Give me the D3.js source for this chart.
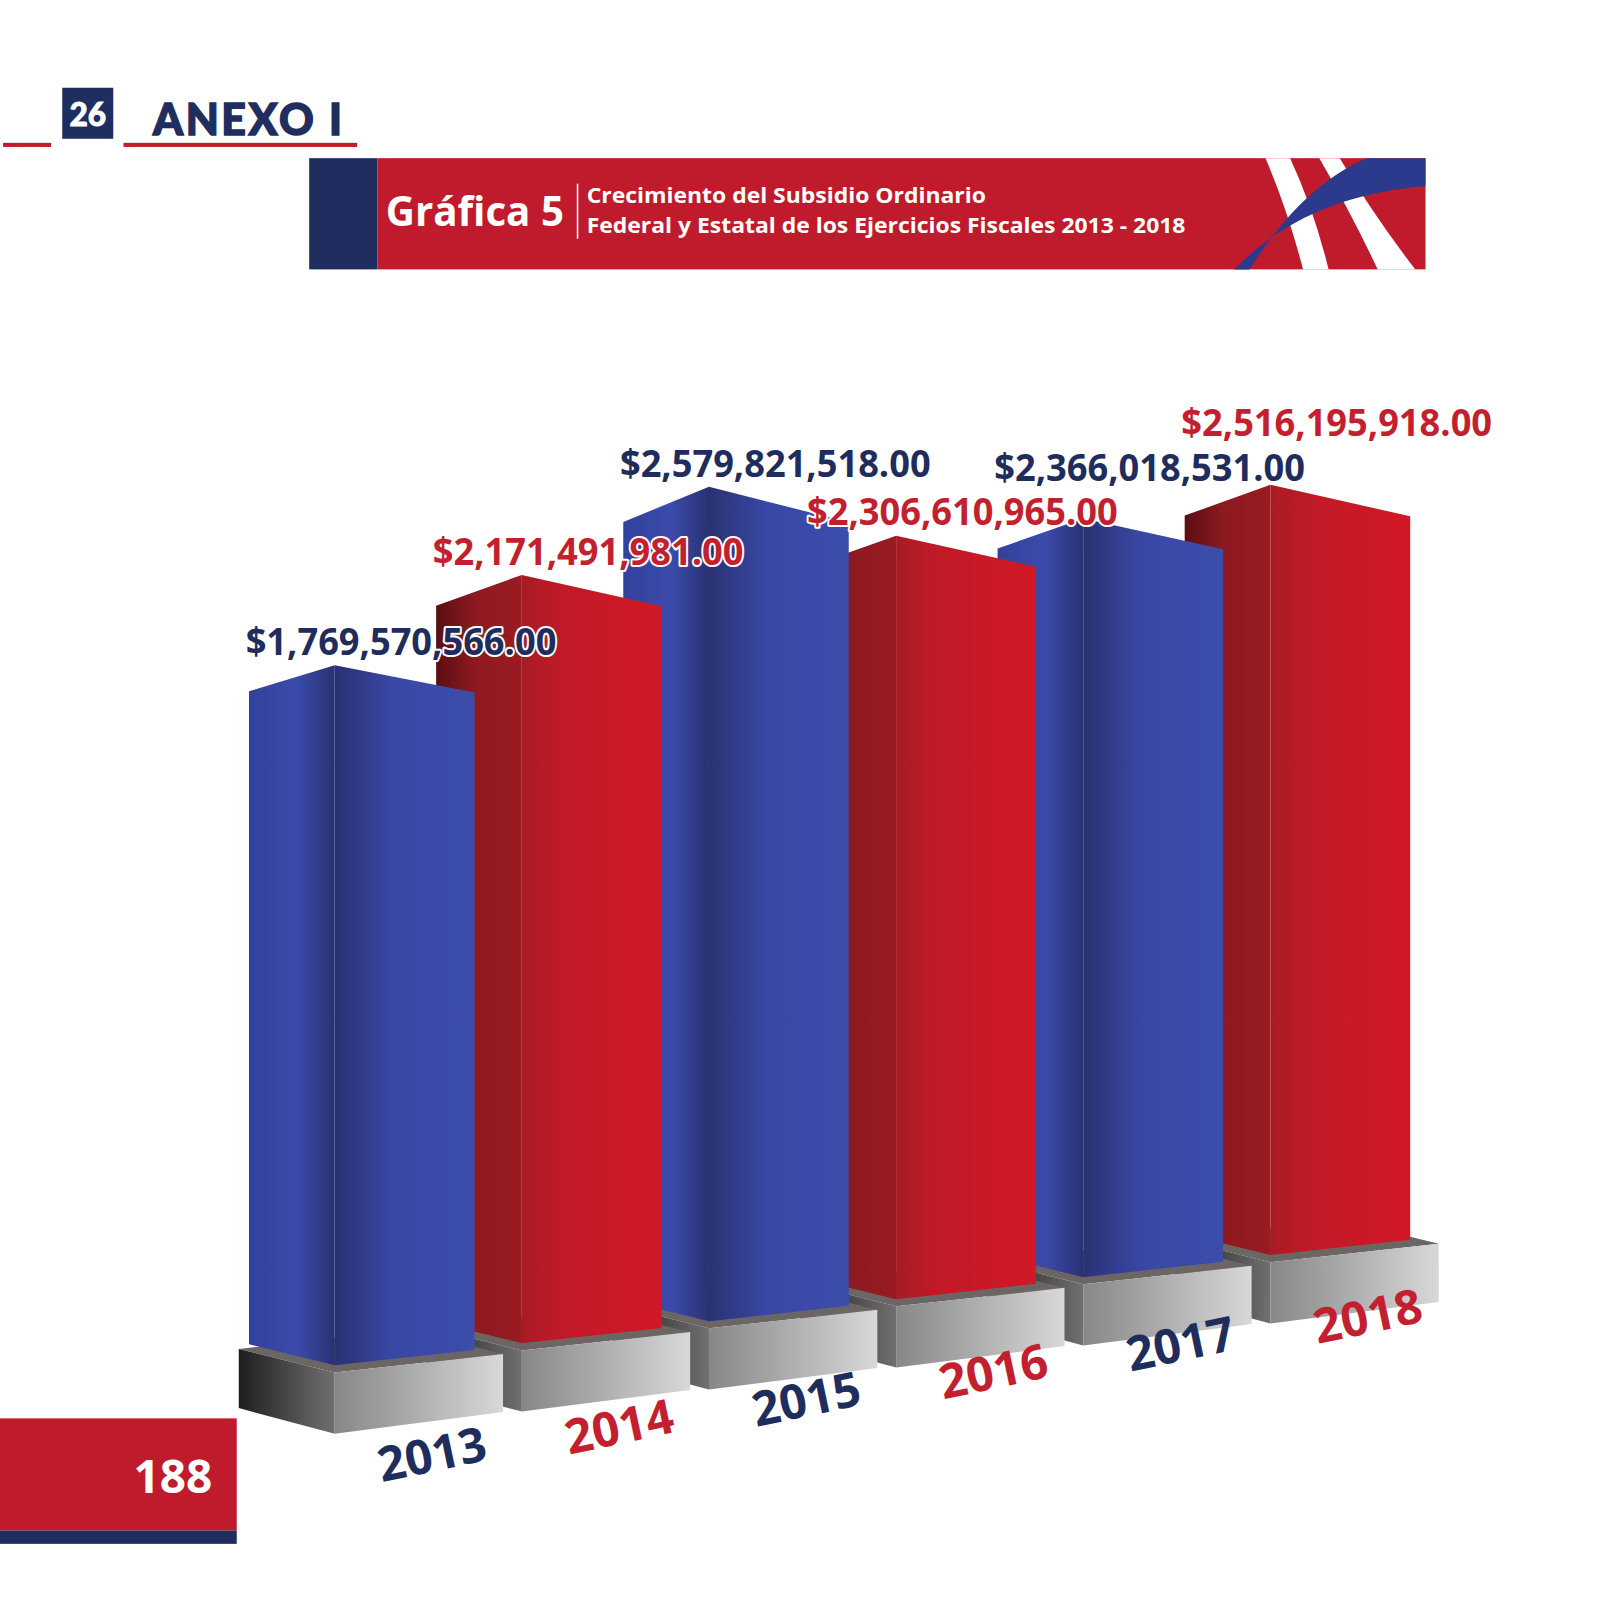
<!DOCTYPE html>
<html><head><meta charset="utf-8">
<script src="https://cdn.jsdelivr.net/npm/d3@7"></script>
<style>body{margin:0;background:#fff}svg{display:block}</style>
</head><body>
<svg id="c" width="1600" height="1600"></svg>
<script>
// ---------- data ----------
const years = ["2013", "2014", "2015", "2016", "2017", "2018"];
const values = [1769570566, 2171491981, 2579821518, 2306610965, 2366018531, 2516195918];
const sectionNumber = "26";
const sectionTitle = "ANEXO I";
const chartNumber = "Gráfica 5";
const titleLines = ["Crecimiento del Subsidio Ordinario", "Federal y Estatal de los Ejercicios Fiscales 2013 - 2018"];
const pageNumber = "188";

// ---------- styles ----------
const NAVY = "#1f2e5e", RED = "#c01b2c", LBLUE = "#1f2d5c", LRED = "#c41f2f";
const FONT = "'Open Sans', 'Noto Sans', sans-serif";

const root = d3.select("#c");
const defs = root.append("defs");
const svg = root.append("g").attr("transform", "scale(1.0204)");
function grad(id, stops) {
  const g = defs.append("linearGradient").attr("id", id)
    .attr("x1", 0).attr("x2", 1).attr("y1", 0).attr("y2", 0);
  stops.forEach(([o, c]) => g.append("stop").attr("offset", o).attr("stop-color", c));
}
grad("blueL", [[0, "#33409b"], [0.55, "#3c4bab"], [1, "#2a3172"]]);
grad("blueR", [[0, "#2a3172"], [0.4, "#3947a4"], [1, "#3d4dac"]]);
grad("redL", [[0, "#5a0e13"], [0.45, "#8c1a20"], [1, "#9a1b22"]]);
grad("redR", [[0, "#a81b24"], [0.3, "#c11a27"], [1, "#d21826"]]);
grad("pedL", [[0, "#1e1e1e"], [1, "#707070"]]);
grad("pedF", [[0, "#878787"], [1, "#d8d8d8"]]);

// ---------- header ----------
svg.append("rect").attr("x", 3).attr("y", 140).attr("width", 47).attr("height", 4).attr("fill", RED);
svg.append("rect").attr("x", 121).attr("y", 140).attr("width", 229).attr("height", 4).attr("fill", RED);
svg.append("rect").attr("x", 61).attr("y", 86).attr("width", 50).attr("height", 50).attr("fill", NAVY);
svg.append("text").attr("x", 86).attr("y", 123).attr("text-anchor", "middle")
  .attr("fill", "#fff").attr("stroke", "#fff").attr("stroke-width", 0.8)
  .attr("font-family", "Lato, sans-serif").attr("font-weight", 900)
  .attr("font-size", 31).text(sectionNumber);
svg.append("text").attr("x", 150).attr("y", 132)
  .attr("fill", NAVY).attr("stroke", NAVY).attr("stroke-width", 1.4)
  .attr("font-family", "Lato, sans-serif").attr("font-weight", 900)
  .attr("font-size", 42).attr("letter-spacing", 2.5).text(sectionTitle);

// banner
root.append("clipPath").attr("id", "bannerClip").append("rect")
  .attr("x", 370).attr("y", 155).attr("width", 1027).attr("height", 109);
svg.append("rect").attr("x", 303).attr("y", 155).attr("width", 67).attr("height", 109).attr("fill", NAVY);
svg.append("rect").attr("x", 370).attr("y", 155).attr("width", 1027).attr("height", 109).attr("fill", RED);
const deco = svg.append("g").attr("clip-path", "url(#bannerClip)");
deco.append("path").attr("fill", "#fff")
  .attr("d", "M1238,150 Q1262,205 1278,268 L1303,268 Q1288,205 1262,150 Z");
deco.append("path").attr("fill", "#fff")
  .attr("d", "M1290,150 Q1325,210 1352,268 L1390,268 Q1345,210 1310,150 Z");
deco.append("path").attr("fill", "#2b3a8c")
  .attr("d", "M1206,268 C1255,215 1320,188 1400,182 L1400,150 L1352,150 C1300,168 1258,210 1222,268 Z");

svg.append("text").attr("x", 378).attr("y", 221).attr("fill", "#fff")
  .attr("font-family", FONT).attr("font-weight", 700).attr("font-size", 39.5).text(chartNumber);
svg.append("line").attr("x1", 566).attr("x2", 566).attr("y1", 180).attr("y2", 234)
  .attr("stroke", "#fff").attr("stroke-width", 1.5);
svg.selectAll("text.tl").data(titleLines).join("text").attr("class", "tl")
  .attr("x", 575).attr("y", (d, i) => 199 + i * 29).attr("fill", "#fff")
  .attr("font-family", FONT).attr("font-weight", 700).attr("font-size", 21).text(d => d)
  .each(function () {
    const w = this.getComputedTextLength();
    d3.select(this).attr("textLength", w * 1.07).attr("lengthAdjust", "spacingAndGlyphs");
  });

// ---------- chart geometry (perspective-ish 3D) ----------
const x = d3.scalePoint().domain(years).range([328, 1245]);
const baseY = d3.scaleLinear().domain([328, 1245]).range([1338, 1230]);
const hScale = d3.scaleLinear().domain([1.5e9, 2.6e9]).range([631, 856]);
const persp = d3.scaleLinear().domain([0, years.length - 1]).range([1, 0.9]);
const wL = 84, wR = 137;
const sRB = -0.11, sLB = -0.245, kR = 0.000445, kL = 0.000802;
const pedGap = 7, pedH = 60, pedR = wR + 28, pedL = wL + 10;

const bars = years.map((y, i) => {
  const cx = x(y), yb = baseY(cx);
  const h = hScale(values[i]) * persp(i);
  const yt = yb - h;
  return {
    year: y, i, value: values[i], cx, yb, yt, h,
    blue: i % 2 === 0,
    right: [[cx, yt], [cx + wR, yt + (sRB + kR * h) * wR], [cx + wR, yb + sRB * wR], [cx, yb]],
    left: [[cx - wL, yt + (sLB + kL * h) * wL], [cx, yt], [cx, yb], [cx - wL, yb + sLB * wL]]
  };
});

const line = d3.line();
const chart = svg.append("g");
bars.slice().reverse().forEach(b => {
  const g = chart.append("g");
  const py = b.yb + pedGap;
  const fr = [b.cx + pedR, py + sRB * pedR];
  const bl = [b.cx - pedL, py + sLB * pedL];
  g.append("path").attr("fill", "#6b6664")
    .attr("d", line([[b.cx, py], fr, [fr[0] - pedL, fr[1] + sLB * pedL], bl]) + "Z");
  g.append("path").attr("fill", "url(#pedL)")
    .attr("d", line([bl, [b.cx, py], [b.cx, py + pedH], [bl[0], bl[1] + pedH - 2]]) + "Z");
  g.append("path").attr("fill", "url(#pedF)")
    .attr("d", line([[b.cx, py], fr, [fr[0], fr[1] + pedH - 3], [b.cx, py + pedH]]) + "Z");
  g.append("path").attr("fill", b.blue ? "url(#blueL)" : "url(#redL)").attr("d", line(b.left) + "Z");
  g.append("path").attr("fill", b.blue ? "url(#blueR)" : "url(#redR)").attr("d", line(b.right) + "Z");
});

// ---------- value labels (placed lowest bar first, pushed up on collision) ----------
const fmt = d3.format("$,.2f");
const labelLayer = svg.append("g");
const placed = [];
bars.slice().sort((a, b) => b.yt - a.yt).forEach(b => {
  const cxl = b.cx + 65;
  const t = labelLayer.append("text")
    .attr("x", cxl).attr("y", b.yt - 10).attr("text-anchor", "middle")
    .attr("font-family", FONT).attr("font-weight", 700).attr("font-size", 37)
    .attr("fill", b.blue ? LBLUE : LRED)
    .attr("stroke", "#fff").attr("stroke-width", 4).attr("stroke-linejoin", "round")
    .attr("paint-order", "stroke")
    .text(fmt(b.value));
  const w = t.node().getComputedTextLength() * 0.96;
  t.attr("textLength", w).attr("lengthAdjust", "spacingAndGlyphs");
  const x0 = cxl - w / 2, x1 = cxl + w / 2;
  let y = b.yt - 10, moved = true;
  while (moved) {
    moved = false;
    for (const p of placed) {
      const xo = Math.min(x1, p.x1) - Math.max(x0, p.x0);
      if (xo > -4 && Math.abs(p.y - y) < 44) { y = p.y - 44; moved = true; }
    }
  }
  t.attr("y", y);
  placed.push({ x0, x1, y });
});

// ---------- year labels ----------
bars.forEach(b => {
  const lx = b.cx + 95;
  const ly = baseY(lx) + 97 - 0.03 * (b.cx - x(years[0]));
  svg.append("text")
    .attr("transform", `translate(${lx},${ly}) rotate(-12)`)
    .attr("text-anchor", "middle").attr("dominant-baseline", "central")
    .attr("font-family", FONT).attr("font-weight", 700).attr("font-size", 47)
    .attr("fill", b.blue ? LBLUE : LRED).text(b.year);
});

// ---------- page number ----------
svg.append("rect").attr("x", 0).attr("y", 1390).attr("width", 232).attr("height", 110).attr("fill", RED);
svg.append("rect").attr("x", 0).attr("y", 1500).attr("width", 232).attr("height", 13).attr("fill", NAVY);
svg.append("text").attr("x", 208).attr("y", 1463).attr("text-anchor", "end").attr("fill", "#fff")
  .attr("font-family", FONT).attr("font-weight", 700).attr("font-size", 45).text(pageNumber);
</script>
</body></html>
